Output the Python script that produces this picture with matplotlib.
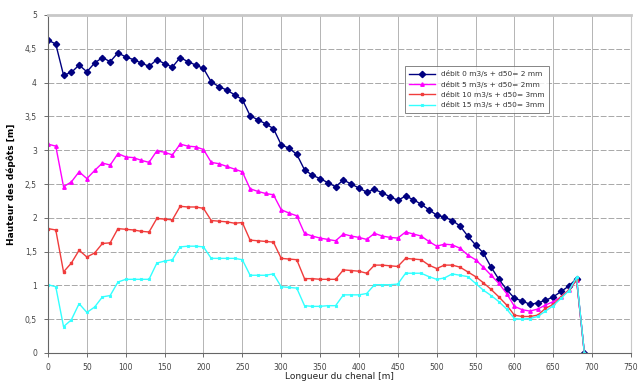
"""Hauteur des dépôts le long du chenal pour quatre débits."""
import matplotlib
matplotlib.use("Agg")
import matplotlib.pyplot as plt
import numpy as np

# abscisses (m), pas de 10 m, puis le point final à 0
x = list(range(0, 690, 10)) + [690]

h_q0 = [4.63, 4.57, 4.11, 4.15, 4.26, 4.16, 4.29, 4.37, 4.31, 4.44,
        4.38, 4.34, 4.29, 4.24, 4.34, 4.28, 4.23, 4.37, 4.31, 4.26,
        4.21, 4.01, 3.94, 3.89, 3.82, 3.75, 3.51, 3.45, 3.39, 3.32,
        3.08, 3.03, 2.94, 2.71, 2.63, 2.58, 2.52, 2.46, 2.56, 2.50,
        2.44, 2.38, 2.42, 2.37, 2.31, 2.26, 2.32, 2.27, 2.20, 2.12,
        2.04, 2.01, 1.96, 1.88, 1.73, 1.60, 1.48, 1.27, 1.09, 0.94,
        0.81, 0.77, 0.72, 0.74, 0.78, 0.83, 0.91, 0.99, 1.10, 0.0]
h_q5 = [3.09, 3.06, 2.46, 2.53, 2.68, 2.58, 2.70, 2.81, 2.78, 2.95,
        2.90, 2.89, 2.85, 2.82, 2.99, 2.97, 2.93, 3.09, 3.06, 3.05,
        3.01, 2.82, 2.80, 2.76, 2.72, 2.68, 2.43, 2.39, 2.36, 2.34,
        2.12, 2.07, 2.03, 1.77, 1.73, 1.70, 1.68, 1.66, 1.76, 1.73,
        1.71, 1.68, 1.77, 1.73, 1.71, 1.70, 1.79, 1.76, 1.73, 1.65,
        1.58, 1.61, 1.60, 1.55, 1.45, 1.38, 1.27, 1.15, 1.03, 0.88,
        0.69, 0.64, 0.62, 0.65, 0.71, 0.76, 0.83, 0.93, 1.08, 0.0]
h_q10 = [1.84, 1.82, 1.20, 1.33, 1.52, 1.42, 1.48, 1.62, 1.63, 1.84,
         1.83, 1.82, 1.80, 1.79, 1.99, 1.98, 1.97, 2.17, 2.16, 2.16,
         2.14, 1.96, 1.95, 1.94, 1.92, 1.93, 1.67, 1.66, 1.65, 1.64,
         1.40, 1.39, 1.38, 1.10, 1.10, 1.09, 1.09, 1.09, 1.23, 1.22,
         1.21, 1.18, 1.30, 1.30, 1.29, 1.28, 1.40, 1.39, 1.38, 1.30,
         1.25, 1.30, 1.30, 1.27, 1.20, 1.13, 1.04, 0.94, 0.83, 0.71,
         0.56, 0.54, 0.54, 0.56, 0.66, 0.72, 0.83, 0.93, 1.08, 0.0]
h_q15 = [1.01, 0.98, 0.39, 0.49, 0.73, 0.60, 0.68, 0.83, 0.85, 1.05,
         1.09, 1.09, 1.09, 1.09, 1.33, 1.36, 1.38, 1.57, 1.58, 1.58,
         1.57, 1.40, 1.40, 1.40, 1.40, 1.38, 1.15, 1.15, 1.15, 1.17,
         0.98, 0.97, 0.96, 0.70, 0.69, 0.69, 0.70, 0.70, 0.86, 0.86,
         0.86, 0.88, 1.01, 1.01, 1.01, 1.02, 1.18, 1.18, 1.18, 1.13,
         1.09, 1.11, 1.17, 1.15, 1.13, 1.03, 0.93, 0.85, 0.76, 0.65,
         0.51, 0.50, 0.51, 0.54, 0.62, 0.70, 0.81, 0.92, 1.12, 0.0]

labels = ["débit 0 m3/s + d50= 2 mm", "débit 5 m3/s + d50= 2mm",
          "débit 10 m3/s + d50= 3mm", "débit 15 m3/s + d50= 3mm"]
y_ticks = [0, 0.5, 1, 1.5, 2, 2.5, 3, 3.5, 4, 4.5, 5]
y_tick_labels = ["0", "0,5", "1", "1,5", "2", "2,5", "3", "3,5", "4", "4,5", "5"]
x_ticks = list(range(0, 800, 50))

fig = plt.figure(figsize=(6.44, 3.83), dpi=100)
ax = fig.add_axes([48 / 644, 1 - 353 / 383, 583 / 644, 338 / 383])

styles = [
    dict(color="#000080", marker="D", markersize=3.2, lw=1.0),
    dict(color="#FF00FF", marker="^", markersize=2.5, lw=1.0),
    dict(color="#F03C3C", marker="s", markersize=1.8, lw=1.0),
    dict(color="#33FFFF", marker="x", markersize=1.8, lw=1.0),
]
for h, lab, st in zip([h_q0, h_q5, h_q10, h_q15], labels, styles):
    ax.plot(x, h, label=lab, **st)

ax.set_xlim(0, 750)
ax.set_ylim(0, 5)
ax.set_xticks(x_ticks)
ax.set_xticklabels([str(v) for v in x_ticks], fontsize=5.5, color="#444444")
ax.set_yticks(y_ticks)
ax.set_yticklabels(y_tick_labels, fontsize=5.5, color="#444444")
ax.tick_params(axis="x", length=3, width=0.6, color="#555555", pad=4)
ax.tick_params(axis="y", length=3, width=0.6, color="#555555", pad=5)
ax.grid(axis="x", color="#b4b4b4", lw=0.7)
ax.grid(axis="y", color="#a8a8a8", lw=0.7, ls=(0, (6, 2)))
ax.set_axisbelow(True)
for side, sp in ax.spines.items():
    sp.set_color("#666666")
    sp.set_linewidth(0.8)
ax.spines["top"].set_color("#c8c8c8")
ax.spines["top"].set_linewidth(2)
ax.spines["right"].set_color("#c8c8c8")

ax.set_xlabel("Longueur du chenal [m]", fontsize=6.5, labelpad=0.5, color="#222222")
ax.set_ylabel("Hauteur des dépôts [m]", fontsize=6.5, fontweight="bold", labelpad=6)

leg = ax.legend(loc="upper left", bbox_to_anchor=(357 / 583, 1 - 51 / 338),
                fontsize=5.3, frameon=True, fancybox=False, borderpad=0.6,
                handlelength=3.5, labelspacing=0.45, borderaxespad=0)
leg.get_frame().set_edgecolor("#666666")
leg.get_frame().set_linewidth(0.7)
for t in leg.get_texts():
    t.set_color("#333333")

fig.savefig("out.png", dpi=100)
